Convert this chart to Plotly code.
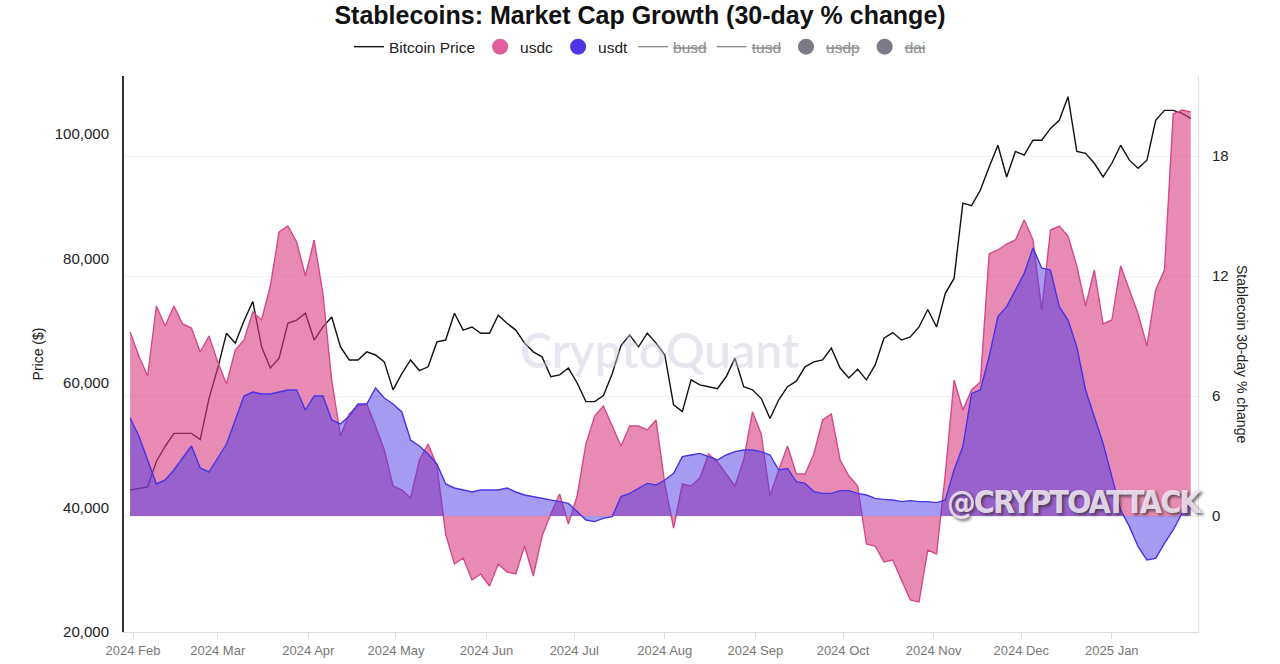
import pandas as pd
import plotly.graph_objects as go

# ---------------- data (3-day sampling) ----------------
dates = pd.date_range("2024-01-31", periods=122, freq="3D")

btc_price = [
    42800, 43100, 43300, 47400, 49800, 51900, 51900, 51900, 50900, 57500,
    62400, 68000, 66400, 70000, 73100, 65800, 62400, 64000, 69600, 70100,
    71200, 66900, 69000, 70600, 65800, 63700, 63700, 65000, 64500, 63400,
    58900, 61500, 63700, 62000, 62600, 66600, 66900, 71200, 68500, 69000,
    68000, 68000, 70900, 69600, 68500, 66400, 65000, 64200, 61000, 61300,
    62400, 60000, 57000, 57000, 58000, 61500, 66000, 67700, 65800, 68000,
    66400, 64500, 56500, 55400, 60500, 59700, 59400, 59100, 61000, 64000,
    59400, 58900, 57500, 54300, 57300, 59400, 60300, 62600, 63400, 63700,
    65600, 62400, 60800, 62200, 60500, 62900, 67200, 68100, 66900, 67400,
    69000, 71800, 69000, 74400, 76800, 88900, 88500, 91000, 94700, 98200,
    93100, 97200, 96600, 99000, 99000, 100900, 102200, 106000, 97200, 96900,
    95300, 93100, 95300, 98200, 95800, 94500, 95800, 102200, 103800, 103800,
    103300, 102500,
]

usdc_change = [
    9.2, 8.0, 7.0, 10.5, 9.5, 10.5, 9.6, 9.4, 8.2, 9.0,
    7.7, 6.6, 8.3, 8.8, 10.2, 9.8, 11.5, 14.2, 14.5, 13.7,
    12.0, 13.8, 11.1, 6.8, 4.0, 5.1, 5.5, 5.6, 4.5, 3.3,
    1.5, 1.3, 0.9, 2.8, 3.6, 2.5, -0.9, -2.4, -2.1, -3.2,
    -2.9, -3.5, -2.4, -2.8, -2.9, -1.5, -3.0, -1.0, 0.1, 1.1,
    -0.4, 1.0, 3.6, 5.0, 5.5, 4.5, 3.5, 4.5, 4.5, 4.3,
    4.8, 1.6, -0.6, 1.6, 1.5, 1.9, 3.1, 2.7, 2.1, 1.5,
    2.8, 5.2, 4.1, 1.0, 2.3, 3.5, 2.1, 2.1, 3.1, 4.8,
    5.1, 2.8, 2.0, 1.5, -1.4, -1.5, -2.3, -2.2, -3.2, -4.2,
    -4.3, -1.7, -1.9, 2.1, 6.8, 5.3, 6.3, 6.7, 13.1, 13.3,
    13.6, 13.8, 14.8, 13.8, 10.3, 14.3, 14.5, 14.0, 12.5, 10.5,
    12.3, 9.6, 9.8, 12.5, 11.3, 10.1, 8.5, 11.3, 12.3, 20.1,
    20.3, 20.2,
]

usdt_change = [
    4.9, 4.0, 2.8, 1.6, 1.8, 2.3, 2.9, 3.5, 2.4, 2.2,
    2.9, 3.6, 4.8, 6.0, 6.2, 6.1, 6.1, 6.2, 6.3, 6.3,
    5.3, 6.0, 6.0, 4.8, 4.6, 5.0, 5.6, 5.6, 6.4, 5.9,
    5.6, 5.2, 3.8, 3.5, 3.1, 2.6, 1.6, 1.4, 1.3, 1.2,
    1.3, 1.3, 1.3, 1.4, 1.2, 1.05, 0.97, 0.88, 0.8, 0.72,
    0.63, 0.22, -0.2, -0.28, -0.12, -0.03, 0.97, 1.13, 1.38, 1.63,
    1.55, 1.8, 2.13, 2.97, 3.05, 3.13, 2.97, 2.8, 3.05, 3.22,
    3.3, 3.3, 3.22, 3.05, 2.3, 2.38, 1.72, 1.63, 1.22, 1.13,
    1.13, 1.27, 1.27, 1.13, 1.05, 0.88, 0.83, 0.8, 0.72, 0.77,
    0.72, 0.72, 0.67, 0.8, 2.3, 3.47, 6.13, 6.3, 7.97, 9.97,
    10.47, 11.3, 12.13, 13.4, 12.4, 12.3, 10.47, 9.8, 8.47, 6.3,
    4.97, 3.63, 1.97, 0.3, -0.53, -1.53, -2.2, -2.12, -1.37, -0.7,
    0.13, 0.63,
]

price_ticks = [20000, 40000, 60000, 80000, 100000]
pct_ticks = [0, 6, 12, 18]
hidden_lines = ["busd", "tusd"]
hidden_dots = ["usdp", "dai"]

FONT = "Liberation Sans, Arial, Helvetica, sans-serif"

fig = go.Figure()

fig.add_trace(go.Scatter(
    x=dates, y=btc_price, name="Bitcoin Price", mode="lines",
    line=dict(color="#111111", width=1.4), yaxis="y",
))
fig.add_trace(go.Scatter(
    x=dates, y=usdc_change, name="usdc", mode="lines", fill="tozeroy",
    fillcolor="rgba(215,62,132,0.6)", line=dict(color="rgb(214,72,140)", width=1.4),
    yaxis="y2", showlegend=False,
))
fig.add_trace(go.Scatter(
    x=dates, y=usdt_change, name="usdt", mode="lines", fill="tozeroy",
    fillcolor="rgba(75,55,225,0.5)", line=dict(color="rgb(72,52,230)", width=1.4),
    yaxis="y2", showlegend=False,
))

# legend-only entries
for nm, col in [("usdc", "#e0609e"), ("usdt", "#4f36e3")]:
    fig.add_trace(go.Scatter(x=[None], y=[None], mode="markers", name=nm,
                             marker=dict(size=16, color=col), yaxis="y2"))
for nm in hidden_lines:
    fig.add_trace(go.Scatter(x=[None], y=[None], mode="lines",
                             name=f'<span style="color:#8e8e8e"><s>{nm}</s></span>',
                             line=dict(color="#8e8e8e", width=1.4), yaxis="y2"))
for nm in hidden_dots:
    fig.add_trace(go.Scatter(x=[None], y=[None], mode="markers",
                             name=f'<span style="color:#8e8e8e"><s>{nm}</s></span>',
                             marker=dict(size=16, color="#7b7b87"), yaxis="y2"))

fig.update_layout(
    width=1280, height=664,
    margin=dict(l=124, r=82, t=76, b=32, autoexpand=False),
    paper_bgcolor="white", plot_bgcolor="white",
    font=dict(family=FONT, color="#222222"),
    title=dict(text="Stablecoins: Market Cap Growth (30-day % change)",
               x=0.5, xanchor="center", y=1 - 15 / 664, yanchor="middle",
               font=dict(size=25, color="#111111", family=FONT, weight="bold")),
    legend=dict(orientation="h", x=0.4804, xanchor="center", y=1.052, yanchor="middle",
                font=dict(size=15.5, color="#222222", family=FONT),
                bgcolor="rgba(0,0,0,0)", itemwidth=30),
    showlegend=True,
    xaxis=dict(type="date", range=["2024-01-28 22:00", "2025-01-30 11:30"],
               tick0="2024-02-01", dtick="M1", tickformat="%Y %b",
               ticks="outside", ticklen=6, tickcolor="#dddddd",
               showline=True, linecolor="#dddddd", linewidth=1,
               showgrid=False, zeroline=False, automargin=False,
               tickfont=dict(size=13, color="#777777")),
    yaxis=dict(range=[20000, 109317], tickvals=price_ticks, tickformat=",",
               showline=True, linecolor="#333333", linewidth=2,
               showgrid=False, zeroline=False, ticks="", automargin=False,
               ticklabelstandoff=10,
               tickfont=dict(size=15, color="#222222"),
               title=dict(text="Price ($)", standoff=8,
                          font=dict(size=14, color="#222222"))),
    yaxis2=dict(overlaying="y", side="right", range=[-5.8, 22.0],
                tickvals=pct_ticks, showline=True, linecolor="#dddddd", linewidth=1,
                showgrid=True, gridcolor="#f2f2f2", zeroline=False, ticks="",
                automargin=False, ticklabelstandoff=10,
                tickfont=dict(size=15, color="#222222")),
    annotations=[
        dict(text="Stablecoin 30-day % change", xref="paper", yref="paper",
             x=1.041, y=0.5, xanchor="center", yanchor="middle",
             textangle=90, showarrow=False,
             font=dict(size=14, color="#222222", family=FONT)),
        dict(text="CryptoQuant", xref="paper", yref="paper", x=0.499, y=0.508,
             xanchor="center", yanchor="middle", showarrow=False,
             font=dict(size=48, color="rgba(200,200,218,0.45)",
                       family="Lato, Open Sans, sans-serif", weight=600)),
        dict(text='<span style="letter-spacing:-2px">@CRYPTOATTACK</span>',
             xref="paper", yref="paper", x=0.8855, y=0.234,
             xanchor="center", yanchor="middle", showarrow=False,
             font=dict(size=32, color="rgba(240,230,245,0.9)",
                       family="DejaVu Sans Condensed, sans-serif",
                       weight="bold", shadow="2px 2px 3px rgba(40,40,40,0.75)")),
    ],
)

fig.write_html("out.html")
